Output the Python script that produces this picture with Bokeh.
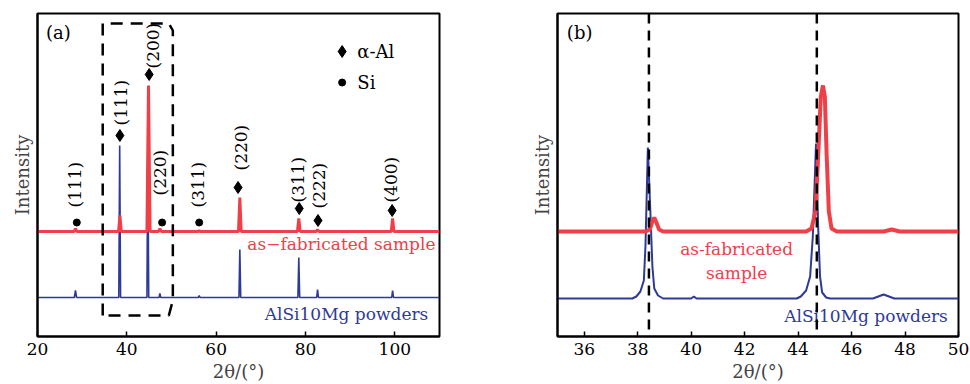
import math
from bokeh.plotting import figure
from bokeh.layouts import row
from bokeh.models import Range1d, FixedTicker, Span
from bokeh.embed import file_html
from bokeh.resources import INLINE
from bokeh.core.properties import value

FONT = "DejaVu Serif"
RED = "#ef4048"
BLUE = "#2e3a97"

# ---------------- panel (a): full XRD patterns ----------------
a_red_x = [20, 28.2, 28.5, 28.8, 38.15, 38.45, 38.75, 44.5, 44.85, 45.2, 47.1, 47.4, 47.7,
           56.0, 56.2, 56.4, 65.0, 65.3, 65.6, 78.2, 78.5, 78.8, 82.4, 82.7, 83.0,
           99.2, 99.5, 99.8, 110]
a_red_y = [105, 105, 108, 105, 105, 121, 105, 105, 251, 105, 105, 108, 105,
           105, 106, 105, 105, 139, 105, 105, 118, 105, 105, 107, 105,
           105, 118, 105, 105]

a_blue_x = [20, 28.25, 28.5, 28.75, 38.2, 38.4, 38.6, 44.5, 44.7, 44.9, 47.2, 47.4, 47.6,
            56.0, 56.2, 56.4, 65.1, 65.3, 65.5, 78.3, 78.5, 78.7, 82.5, 82.7, 82.9,
            99.3, 99.5, 99.7, 110]
a_blue_y = [39, 39, 46, 39, 39, 191, 39, 39, 191, 39, 39, 43, 39,
            39, 41, 39, 39, 87, 39, 39, 79, 39, 39, 47, 39,
            39, 46, 39, 39]

hkl_labels = ["(111)", "(111)", "(200)", "(220)", "(311)", "(220)", "(311)", "(222)", "(400)"]
hkl_phase = ["Si", "Al", "Al", "Si", "Si", "Al", "Al", "Al", "Al"]
hkl_mark_x = [28.8, 38.45, 45.0, 47.9, 56.2, 64.9, 78.6, 82.8, 99.4]
hkl_mark_y = [114, 201, 262, 114, 114, 149, 128, 116, 126]
hkl_text_x = [28.4, 38.7, 45.8, 47.4, 55.9, 65.6, 78.4, 83.1, 99.2]
hkl_text_y = [129, 211, 268, 141, 129, 166, 134, 128, 134]

legend_labels = ["α-Al", "Si"]
legend_markers = ["diamond", "circle"]
legend_mark_x = [88.2, 88.2]
legend_text_x = [91.6, 91.6]
legend_y = [285, 254]

box_x = [34.6, 34.6, 49.4, 50.3, 50.3, 49.4, 34.6]
box_y = [21, 313, 313, 306, 36, 21, 21]

# ---------------- panel (b): zoom 35-50 ----------------
b_red_x = [35, 38.3, 38.45, 38.55, 38.62, 38.7, 38.8, 38.95, 44.3, 44.5, 44.65, 44.75, 44.85,
           44.93, 45.0, 45.07, 45.15, 45.25, 45.45, 47.2, 47.5, 47.8, 50]
b_red_y = [105, 105, 107, 115, 119, 114, 107, 105, 105, 108, 125, 180, 240,
           251, 240, 180, 125, 108, 105, 105, 107, 105, 105]

b_blue_x = [35, 37.8, 37.95, 38.1, 38.23, 38.29, 38.38, 38.48, 38.55, 38.62, 38.76, 38.95,
            40.0, 40.1, 40.2, 43.95, 44.1, 44.3, 44.45, 44.55, 44.67, 44.75, 44.82, 44.9,
            45.05, 45.2, 46.8, 47.2, 47.6, 50]
b_blue_y = [38, 38, 40, 45, 56, 90, 189, 120, 70, 48, 41, 38,
            38, 40, 38, 38, 40, 46, 60, 100, 193, 110, 60, 44,
            39, 38, 38, 42, 38, 38]

b_ref_lines = [38.42, 44.7]

a_ticks = [20, 40, 60, 80, 100]
b_ticks = [36, 38, 40, 42, 44, 46, 48, 50]


def style(p, ticks):
    p.xgrid.grid_line_color = None
    p.ygrid.grid_line_color = None
    p.outline_line_color = "black"
    p.outline_line_width = 2
    p.background_fill_color = "white"
    p.border_fill_color = "white"

    xa = p.xaxis[0]
    xa.ticker = FixedTicker(ticks=ticks)
    xa.major_tick_in = 5
    xa.major_tick_out = 0
    xa.major_tick_line_width = 1.5
    xa.minor_tick_line_color = None
    xa.axis_line_width = 2
    xa.major_label_text_font = FONT
    xa.major_label_text_font_size = "17px"
    xa.major_label_text_color = "black"
    xa.major_label_standoff = 6
    xa.axis_label = "2θ/(°)"
    xa.axis_label_text_font = FONT
    xa.axis_label_text_font_size = "18px"
    xa.axis_label_text_font_style = "normal"
    xa.axis_label_standoff = 3

    ya = p.yaxis[0]
    ya.ticker = FixedTicker(ticks=[])
    ya.major_tick_line_color = None
    ya.minor_tick_line_color = None
    ya.major_label_text_font_size = "0px"
    ya.axis_line_width = 2
    ya.axis_label = "Intensity"
    ya.axis_label_text_font = FONT
    ya.axis_label_text_font_size = "18px"
    ya.axis_label_text_font_style = "normal"
    ya.axis_label_standoff = 5


pa = figure(width=480, height=384, x_range=Range1d(20, 110), y_range=Range1d(0, 323),
            output_backend="svg", toolbar_location=None,
            min_border_left=37, min_border_right=41, min_border_top=13, min_border_bottom=48)
style(pa, a_ticks)

pa.line(a_blue_x, a_blue_y, line_color=BLUE, line_width=1.6)
pa.line(a_red_x, a_red_y, line_color=RED, line_width=3)
pa.line(box_x, box_y, line_color="black", line_width=2.5, line_dash="12 8")

al_idx = [i for i, ph in enumerate(hkl_phase) if ph == "Al"]
si_idx = [i for i, ph in enumerate(hkl_phase) if ph == "Si"]
pa.scatter([hkl_mark_x[i] for i in al_idx], [hkl_mark_y[i] for i in al_idx],
           marker="diamond", size=12, color="black")
pa.scatter([hkl_mark_x[i] for i in si_idx], [hkl_mark_y[i] for i in si_idx],
           marker="circle", size=7, color="black")
pa.text(hkl_text_x, hkl_text_y, text=hkl_labels, angle=math.pi / 2,
        text_align="left", text_baseline="middle",
        text_font=value(FONT), text_font_size="17px", text_color="black")

for lab, mk, mx, tx, ly in zip(legend_labels, legend_markers, legend_mark_x, legend_text_x, legend_y):
    pa.scatter([mx], [ly], marker=mk, size=12 if mk == "diamond" else 7, color="black")
    pa.text([tx], [ly], text=[lab], text_align="left", text_baseline="middle",
            text_font=value(FONT), text_font_size="18px", text_color="black")

pa.text([21.9], [304], text=["(a)"], text_align="left", text_baseline="middle",
        text_font=value(FONT), text_font_size="18px", text_color="black")
pa.text([109.1], [93], text=["as−fabricated sample"], text_align="right", text_baseline="middle",
        text_font=value(FONT), text_font_size="17px", text_color=RED)
pa.text([107.5], [23], text=["AlSi10Mg powders"], text_align="right", text_baseline="middle",
        text_font=value(FONT), text_font_size="17px", text_color=BLUE)

pb = figure(width=490, height=384, x_range=Range1d(35, 50), y_range=Range1d(0, 323),
            output_backend="svg", toolbar_location=None,
            min_border_left=77, min_border_right=12, min_border_top=13, min_border_bottom=48)
style(pb, b_ticks)

pb.line(b_blue_x, b_blue_y, line_color=BLUE, line_width=2)
pb.line(b_red_x, b_red_y, line_color=RED, line_width=4)
for loc in b_ref_lines:
    pb.add_layout(Span(location=loc, dimension="height", line_color="black",
                       line_width=2.5, line_dash="10 7"))

pb.text([35.35], [304], text=["(b)"], text_align="left", text_baseline="middle",
        text_font=value(FONT), text_font_size="18px", text_color="black")
pb.text([41.7, 41.7], [88, 64], text=["as-fabricated", "sample"], text_align="center",
        text_baseline="middle", text_font=value(FONT), text_font_size="17px", text_color=RED)
pb.text([49.6], [21], text=["AlSi10Mg powders"], text_align="right", text_baseline="middle",
        text_font=value(FONT), text_font_size="17px", text_color=BLUE)

layout = row(pa, pb)
open("out.html", "w").write(file_html(layout, INLINE))
